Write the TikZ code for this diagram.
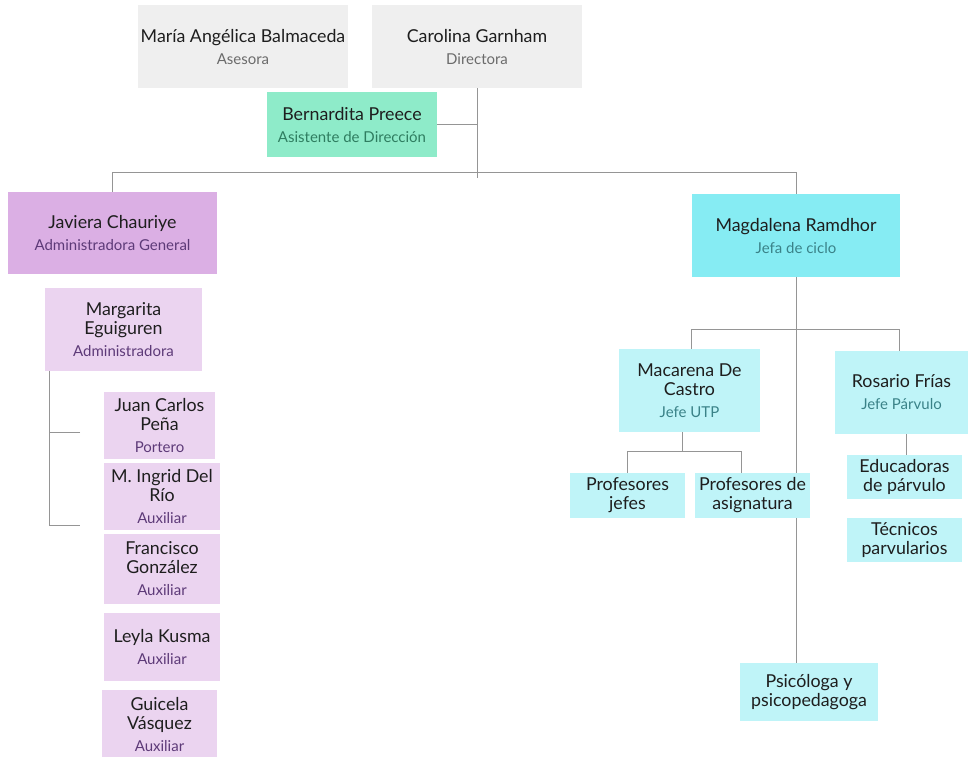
\documentclass[tikz,border=0pt]{standalone}
\usepackage{fontspec}
\setmainfont{Lato}
\usetikzlibrary{backgrounds}
\definecolor{gbox}{HTML}{EFEFEF}
\definecolor{mint}{HTML}{8EEBC9}
\definecolor{purp}{HTML}{DBAFE4}
\definecolor{lpurp}{HTML}{EBD4F0}
\definecolor{cyanA}{HTML}{86ECF3}
\definecolor{cyanB}{HTML}{BFF4F8}
\definecolor{nmcol}{HTML}{1E1E1E}
\definecolor{subgray}{HTML}{6B6B6B}
\definecolor{subgreen}{HTML}{2F7D60}
\definecolor{subpurp}{HTML}{5D3A78}
\definecolor{subteal}{HTML}{3A8288}
\definecolor{linec}{HTML}{959595}
\newcommand\nmf{\fontsize{17.8}{19}\selectfont}
\newcommand\subf{\fontsize{15}{17}\selectfont}
\tikzset{
  card/.style={rectangle, inner sep=0pt, align=center, text=nmcol, font=\nmf},
  graybox/.style={card, fill=gbox},
  mintbox/.style={card, fill=mint},
  purpbox/.style={card, fill=purp},
  lpurpbox/.style={card, fill=lpurp},
  cyanbox/.style={card, fill=cyanA},
  lcyanbox/.style={card, fill=cyanB},
  conn/.style={draw=linec, line width=0.9pt},
}
\newcommand\sgray[1]{{\subf\color{subgray}#1}}
\newcommand\sgreen[1]{{\subf\color{subgreen}#1}}
\newcommand\spurp[1]{{\subf\color{subpurp}#1}}
\newcommand\steal[1]{{\subf\color{subteal}#1}}
\begin{document}
\begin{tikzpicture}[x=1pt,y=-1pt]
\useasboundingbox (0,0) rectangle (968,756);
% top
\node[graybox, minimum width=210, minimum height=83] (bal) at (243,46.5) {María Angélica Balmaceda\\[3pt]\sgray{Asesora}};
\node[graybox, minimum width=210, minimum height=83] (gar) at (477,46.5) {Carolina Garnham\\[3pt]\sgray{Directora}};
\node[mintbox, minimum width=170, minimum height=65] (pre) at (352,124.5) {Bernardita Preece\\[3pt]\sgreen{Asistente de Dirección}};
% left
\node[purpbox, minimum width=209, minimum height=82] (jav) at (112.5,233) {Javiera Chauriye\\[3pt]\spurp{Administradora General}};
\node[lpurpbox, minimum width=157, minimum height=83] (mar) at (123.5,329.5) {Margarita\\Eguiguren\\[3pt]\spurp{Administradora}};
\node[lpurpbox, minimum width=111, minimum height=67] (jcp) at (159.5,425.5) {Juan Carlos\\Peña\\[3pt]\spurp{Portero}};
\node[lpurpbox, minimum width=116, minimum height=67] (ing) at (162,496.5) {M. Ingrid Del\\Río\\[3pt]\spurp{Auxiliar}};
\node[lpurpbox, minimum width=116, minimum height=70] (fra) at (162,569) {Francisco\\González\\[3pt]\spurp{Auxiliar}};
\node[lpurpbox, minimum width=116, minimum height=68] (ley) at (162,647) {Leyla Kusma\\[3pt]\spurp{Auxiliar}};
\node[lpurpbox, minimum width=115, minimum height=68] (gui) at (159.5,724) {Guicela\\Vásquez\\[3pt]\spurp{Auxiliar}};
% right
\node[cyanbox, minimum width=208, minimum height=83] (mag) at (796,235.5) {Magdalena Ramdhor\\[3pt]\steal{Jefa de ciclo}};
\node[lcyanbox, minimum width=141, minimum height=83] (mac) at (689.5,390.5) {Macarena De\\Castro\\[3pt]\steal{Jefe UTP}};
\node[lcyanbox, minimum width=133, minimum height=83] (ros) at (901.5,392.5) {Rosario Frías\\[3pt]\steal{Jefe Párvulo}};
\node[lcyanbox, minimum width=115, minimum height=45] (pj) at (627.5,495.5) {Profesores\\jefes};
\node[lcyanbox, minimum width=115, minimum height=45] (pa) at (752.5,495.5) {Profesores de\\asignatura};
\node[lcyanbox, minimum width=115, minimum height=44] (edu) at (904.5,477) {Educadoras\\de párvulo};
\node[lcyanbox, minimum width=115, minimum height=44] (tec) at (904.5,540) {Técnicos\\parvularios};
\node[lcyanbox, minimum width=138, minimum height=58] (psi) at (809,692) {Psicóloga y\\psicopedagoga};
% free ends
\coordinate (topend) at (477,178);
\coordinate (bus) at (0,172);
\coordinate (bus2) at (0,329);
\coordinate (b1) at (80,432);
\coordinate (b2) at (80,525);
\begin{scope}[on background layer]
\draw[conn] (gar.south) -- (topend);
\draw[conn] (pre.east) -- (pre.east -| gar.south);
\draw[conn] (jav.north) -- (jav.north |- bus) -| (mag.north);
\draw[conn] ([xshift=5]mar.south west) |- (b2);
\draw[conn] (b1) -- ++(-30,0);
\draw[conn] (mag.south) -- (mag.south |- psi.north);
\draw[conn] ([xshift=1.5]mac.north) -- ([xshift=1.5]mac.north |- bus2) -| ([xshift=-2.5]ros.north);
\draw[conn] ([xshift=-7.5]mac.south) -- ++(0,19) coordinate (c1);
\draw[conn] (pj.north) |- (c1) -| ([xshift=-11.5]pa.north);
\draw[conn] ([xshift=1.5]edu.north) -- ([xshift=1.5]edu.north |- ros.south);
\end{scope}
\end{tikzpicture}
\end{document}
